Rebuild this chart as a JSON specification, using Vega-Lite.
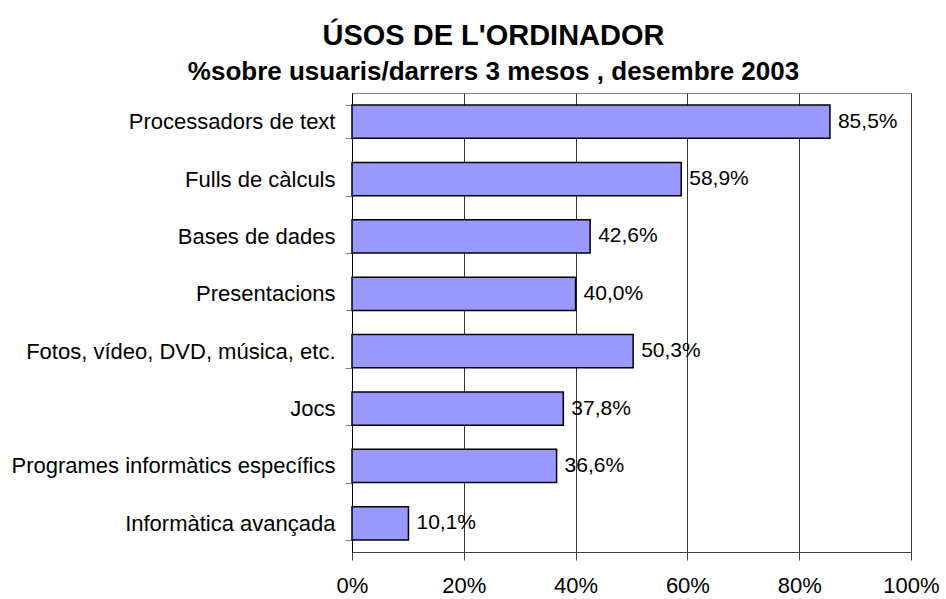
{
  "$schema": "https://vega.github.io/schema/vega-lite/v6.json",
  "width": 559,
  "height": 459,
  "autosize": "none",
  "padding": {"left": 352, "top": 93, "right": 35, "bottom": 47},
  "background": "white",
  "config": {
    "locale": {"number": {"decimal": ",", "thousands": ".", "grouping": [3], "currency": ["", " €"]}},
    "view": {"stroke": "#808080", "strokeWidth": 1},
    "font": "Liberation Sans"
  },
  "title": {
    "text": "ÚSOS DE L'ORDINADOR",
    "subtitle": "%sobre usuaris/darrers 3 mesos , desembre 2003",
    "anchor": "middle",
    "frame": "group",
    "dx": -138,
    "fontSize": 29,
    "fontWeight": "bold",
    "font": "Liberation Sans",
    "color": "#000000",
    "subtitleFont": "Liberation Sans",
    "subtitleFontSize": 26,
    "subtitleFontWeight": "bold",
    "subtitleColor": "#000000",
    "subtitlePadding": 8,
    "offset": -3
  },
  "data": {
    "values": [
      {"uso": "Processadors de text", "pct": 0.855},
      {"uso": "Fulls de càlculs", "pct": 0.589},
      {"uso": "Bases de dades", "pct": 0.426},
      {"uso": "Presentacions", "pct": 0.400},
      {"uso": "Fotos, vídeo, DVD, música, etc.", "pct": 0.503},
      {"uso": "Jocs", "pct": 0.378},
      {"uso": "Programes informàtics específics", "pct": 0.366},
      {"uso": "Informàtica avançada", "pct": 0.101}
    ]
  },
  "encoding": {
    "y": {
      "field": "uso",
      "type": "nominal",
      "sort": null,
      "scale": {"paddingInner": 0.42, "paddingOuter": 0.21},
      "axis": {
        "title": null,
        "labelFontSize": 22,
        "labelFont": "Liberation Sans",
        "labelColor": "#000000",
        "labelLimit": 400,
        "tickBand": "extent",
        "tickSize": 7,
        "tickColor": "#808080",
        "labelPadding": 10,
        "domainColor": "#000000",
        "grid": false
      }
    }
  },
  "layer": [
    {
      "mark": {"type": "bar", "fill": "#9999FF", "stroke": "#000000", "strokeWidth": 1.5},
      "encoding": {
        "x": {
          "field": "pct",
          "type": "quantitative",
          "scale": {"domain": [0, 1]},
          "axis": {
            "title": null,
            "format": ".0%",
            "values": [0, 0.2, 0.4, 0.6, 0.8, 1],
            "labelFontSize": 22,
            "labelFont": "Liberation Sans",
            "labelColor": "#000000",
            "labelFlush": false,
            "tickSize": 8,
            "tickColor": "#404040",
            "domainColor": "#404040",
            "grid": true,
            "gridColor": "#333333",
            "gridOpacity": 1,
            "labelPadding": 15
          }
        }
      }
    },
    {
      "mark": {"type": "text", "align": "left", "baseline": "middle", "dx": 8, "fontSize": 21, "font": "Liberation Sans", "color": "#000000"},
      "encoding": {
        "x": {"field": "pct", "type": "quantitative"},
        "text": {"field": "pct", "type": "quantitative", "format": ".1%"}
      }
    }
  ]
}
